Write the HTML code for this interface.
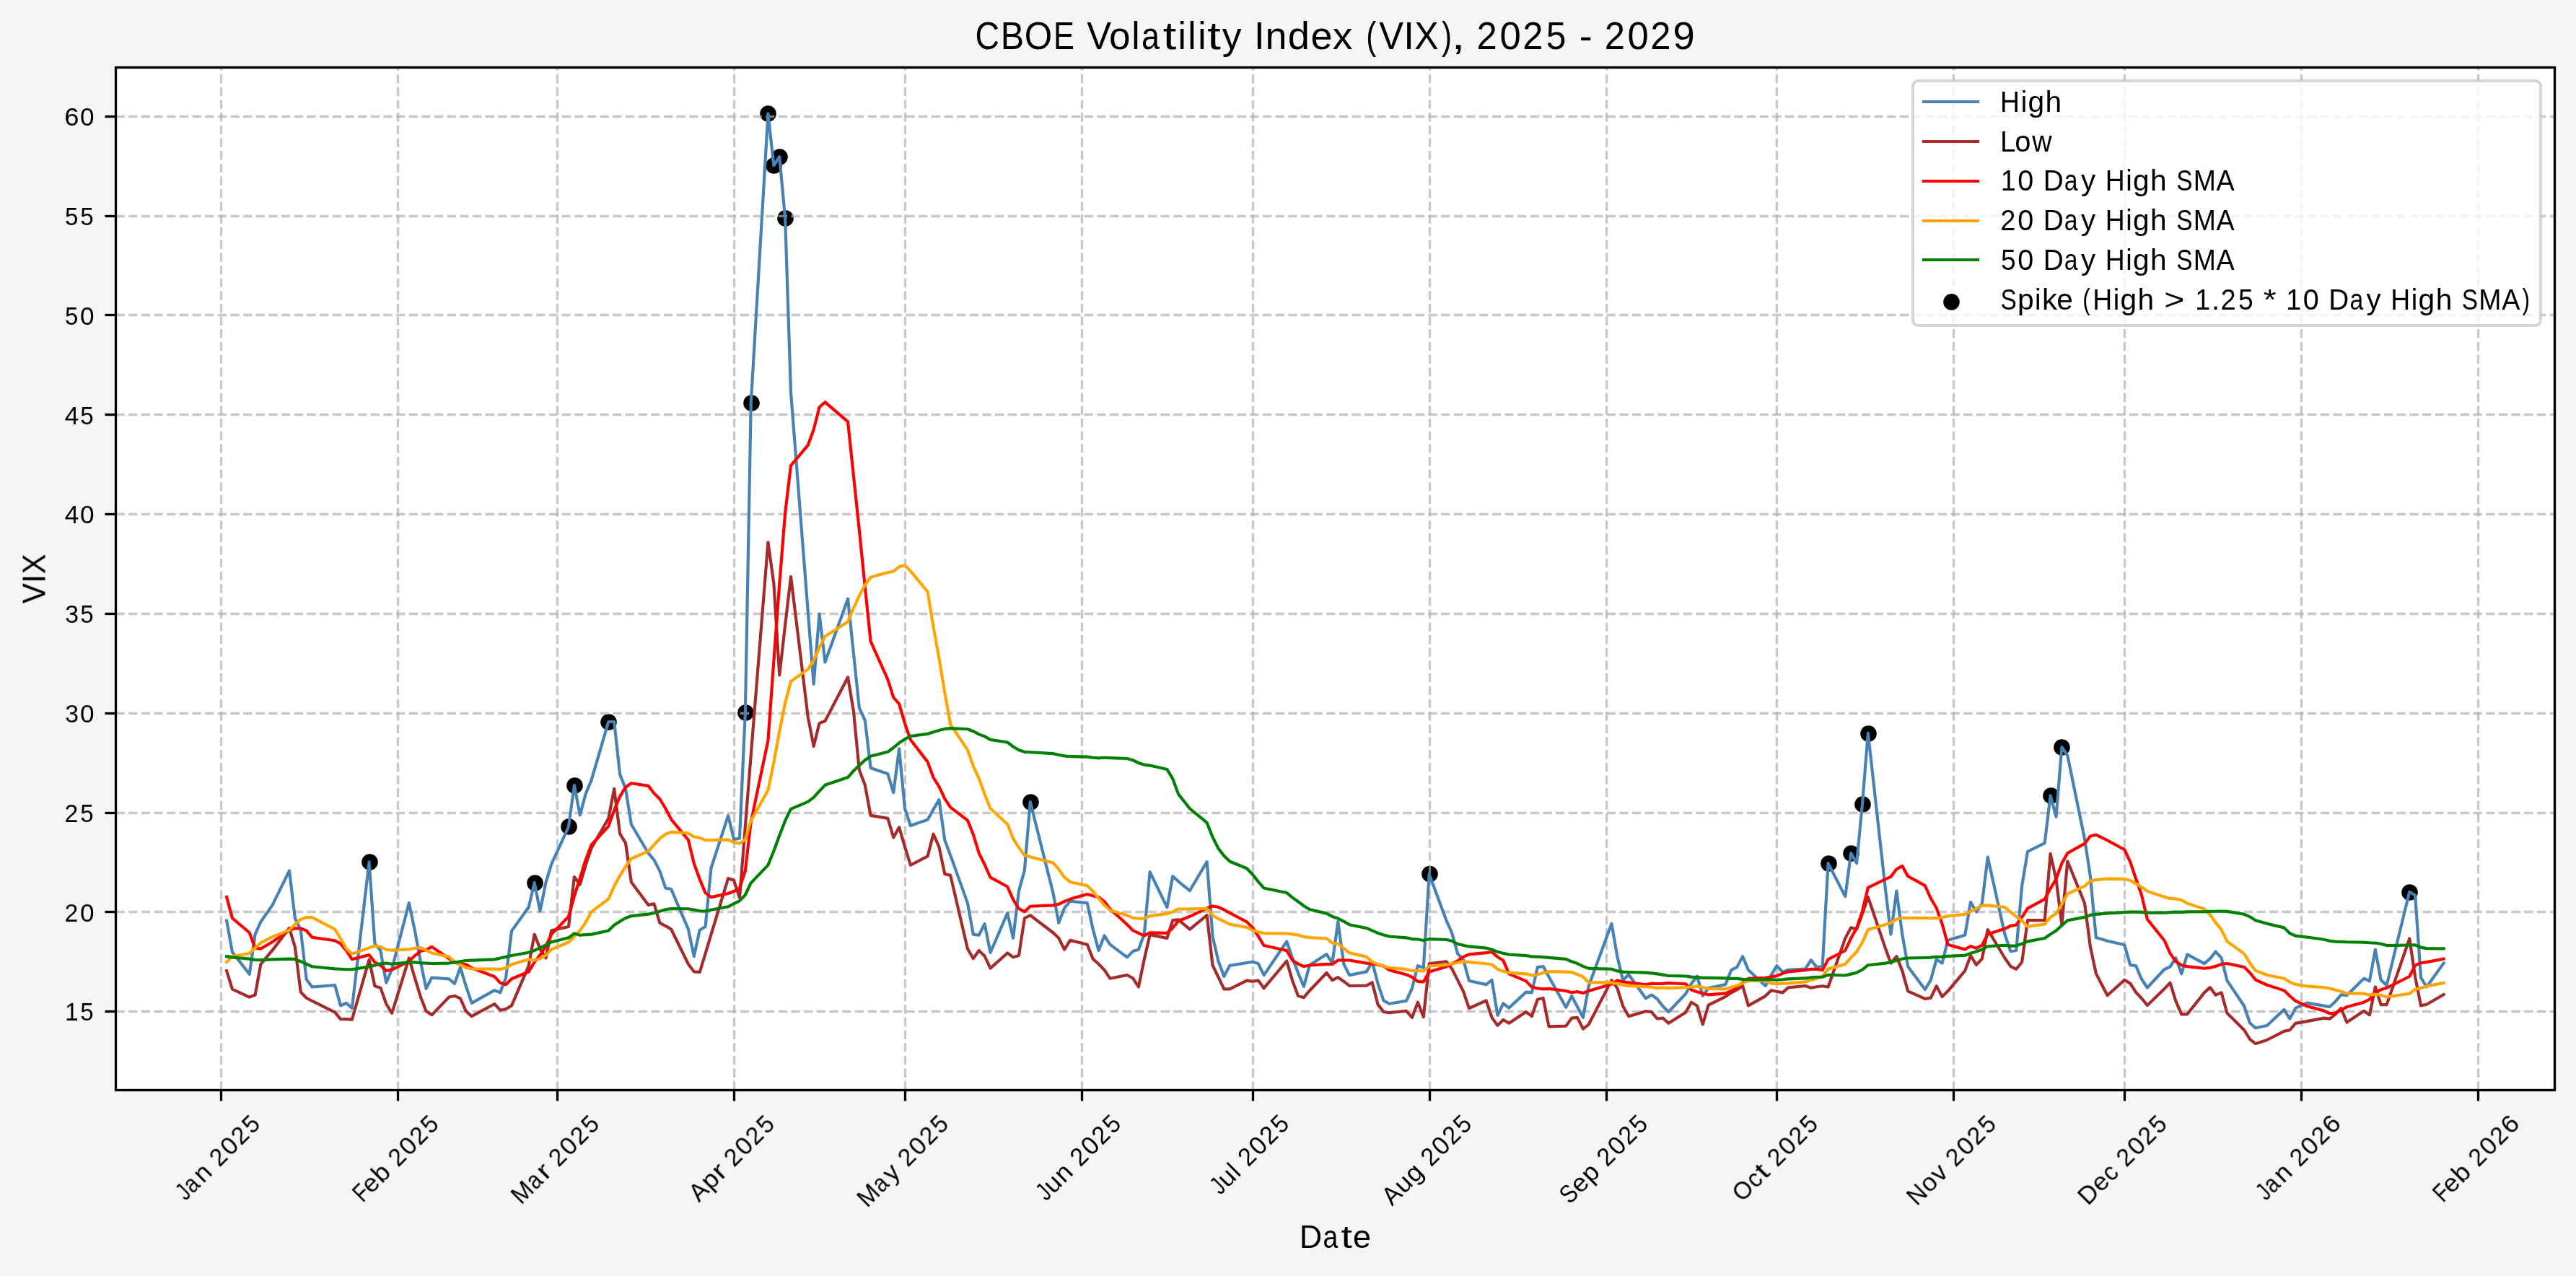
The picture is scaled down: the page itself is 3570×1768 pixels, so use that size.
<!DOCTYPE html><html><head><meta charset="utf-8"><title>CBOE Volatility Index (VIX), 2025 - 2029</title>
<style>html,body{margin:0;padding:0;background:#f5f5f5;}svg{display:block;}text{font-family:"Liberation Sans",sans-serif;fill:#000;}.t{filter:opacity(0.999);}</style></head><body>
<svg width="3570" height="1768" viewBox="0 0 3570 1768">
<rect x="0" y="0" width="3570" height="1768" fill="#f5f5f5"/>
<rect x="160.46" y="93" width="3379.79" height="1417.55" fill="#ffffff"/>
<g fill="#000">
<circle cx="512.5" cy="1194.5" r="11.3"/>
<circle cx="741.5" cy="1223.5" r="11.3"/>
<circle cx="788.5" cy="1145.5" r="11.3"/>
<circle cx="796.5" cy="1088.5" r="11.3"/>
<circle cx="843.5" cy="1000.5" r="11.3"/>
<circle cx="1033.5" cy="987.5" r="11.3"/>
<circle cx="1041.5" cy="558.5" r="11.3"/>
<circle cx="1064.5" cy="157.5" r="11.3"/>
<circle cx="1072.5" cy="229.5" r="11.3"/>
<circle cx="1080.5" cy="217.5" r="11.3"/>
<circle cx="1088.5" cy="302.5" r="11.3"/>
<circle cx="1428.5" cy="1111.5" r="11.3"/>
<circle cx="1981.5" cy="1211.1" r="11.3"/>
<circle cx="2534.5" cy="1196.5" r="11.3"/>
<circle cx="2565.5" cy="1182.5" r="11.3"/>
<circle cx="2581.5" cy="1114.5" r="11.3"/>
<circle cx="2589.5" cy="1016.5" r="11.3"/>
<circle cx="2842.5" cy="1102.5" r="11.3"/>
<circle cx="2857.5" cy="1035.5" r="11.3"/>
<circle cx="3339.5" cy="1236.5" r="11.3"/>
</g>
<g stroke="#b0b0b0" stroke-opacity="0.7" stroke-width="3.33" stroke-dasharray="12.33 5.33" fill="none">
<path d="M306.5 1510.55V93"/>
<path d="M551.5 1510.55V93"/>
<path d="M772.5 1510.55V93"/>
<path d="M1017.5 1510.55V93"/>
<path d="M1254.5 1510.55V93"/>
<path d="M1499.5 1510.55V93"/>
<path d="M1736.5 1510.55V93"/>
<path d="M1981.5 1510.55V93"/>
<path d="M2226.5 1510.55V93"/>
<path d="M2462.5 1510.55V93"/>
<path d="M2707.5 1510.55V93"/>
<path d="M2944.5 1510.55V93"/>
<path d="M3189.5 1510.55V93"/>
<path d="M3434.5 1510.55V93"/>
<path d="M160.46 1401.5H3540.25"/>
<path d="M160.46 1263.5H3540.25"/>
<path d="M160.46 1126.5H3540.25"/>
<path d="M160.46 988.5H3540.25"/>
<path d="M160.46 850.5H3540.25"/>
<path d="M160.46 712.5H3540.25"/>
<path d="M160.46 574.5H3540.25"/>
<path d="M160.46 436.5H3540.25"/>
<path d="M160.46 299.5H3540.25"/>
<path d="M160.46 161.5H3540.25"/>
</g>
<polyline points="314.09,1275.78 321.98,1319.28 345.68,1349.84 353.58,1294.59 361.48,1276.96 377.27,1254.62 400.97,1206.43 408.87,1272.26 416.77,1288.72 424.66,1356.9 432.56,1367.48 464.16,1365.13 472.06,1393.34 479.95,1389.81 487.85,1396.87 511.55,1194.4 519.45,1307.52 527.35,1316.93 535.24,1361.6 543.14,1342.79 566.84,1251.1 574.74,1288.72 582.64,1331.04 590.53,1369.83 598.43,1354.55 622.13,1356.43 630.03,1362.78 637.93,1340.44 645.82,1366.3 653.72,1389.81 685.32,1372.18 693.22,1375.24 701.11,1354.55 709.01,1289.89 732.71,1256.98 740.61,1222.88 748.51,1262.38 756.4,1222.88 764.3,1197.02 788,1145.5 795.9,1088.15 803.8,1129.3 811.69,1099.91 819.59,1081.1 843.29,999.98 851.19,999.98 859.09,1072.87 866.98,1092.85 874.88,1142.23 898.58,1182.2 906.48,1191.6 914.38,1206.88 922.27,1230.39 930.17,1232.04 953.87,1287.54 961.77,1325.16 969.67,1288.72 977.56,1284.01 985.46,1202.9 1009.16,1130.14 1017.06,1163.01 1024.96,1161.64 1032.85,987.43 1040.75,557.96 1064.45,157.43 1072.35,229.38 1080.25,217.25 1088.14,302.43 1096.04,544.18 1119.74,847.39 1127.64,947.87 1135.53,850.69 1143.43,917.46 1175.03,829.69 1182.93,905.55 1190.82,980.78 1198.72,998.03 1206.62,1064.03 1230.32,1072.26 1238.22,1098.12 1246.11,1037.46 1254.01,1120.46 1261.91,1143.97 1285.61,1135.74 1293.51,1121.63 1301.4,1107.99 1309.3,1163.95 1317.2,1185.11 1340.9,1251.08 1348.8,1294.58 1356.69,1295.75 1364.59,1280 1372.49,1319.97 1396.19,1265.19 1404.09,1299.75 1411.98,1234.62 1419.88,1205.71 1427.78,1111.05 1459.38,1236.98 1467.27,1278.59 1475.17,1258.14 1483.07,1248.73 1506.77,1251.08 1514.67,1287.52 1522.56,1316.91 1530.46,1296.46 1538.36,1308.68 1562.06,1326.32 1569.96,1318.09 1577.85,1315.74 1585.75,1294.58 1593.65,1208.15 1617.35,1257.05 1625.25,1214.03 1633.14,1221.32 1648.94,1234.01 1672.64,1194.04 1680.54,1297.49 1688.43,1331.58 1696.33,1352.74 1704.23,1337.93 1727.93,1333.94 1735.83,1332.76 1743.72,1335.11 1751.62,1351.1 1783.22,1304.55 1791.12,1327.59 1799.01,1348.04 1806.91,1366.85 1814.81,1337.46 1838.51,1322.1 1846.4,1334.64 1854.3,1276.96 1862.2,1335.42 1870.1,1351.1 1893.8,1346.39 1901.69,1332.76 1909.59,1362.85 1917.49,1386.36 1925.39,1390.75 1949.09,1386.68 1956.98,1369.12 1964.88,1338.09 1972.78,1340.91 1980.68,1211.1 2004.38,1275.16 2012.27,1293.1 2020.17,1321.32 2028.07,1329.94 2035.97,1358.93 2059.67,1364.11 2067.56,1357.84 2075.46,1406.74 2083.36,1390.28 2091.26,1396.55 2114.96,1374.61 2122.85,1375.39 2130.75,1340.13 2138.65,1339.03 2146.55,1353.45 2170.25,1395.77 2178.14,1380.09 2186.04,1394.98 2193.94,1409.87 2201.84,1365.99 2233.43,1279.78 2241.33,1325.24 2249.23,1358.15 2257.13,1350.31 2280.83,1383.23 2288.72,1378.53 2296.62,1384.01 2304.52,1394.2 2312.42,1402.04 2336.12,1376.96 2344.01,1362.85 2351.91,1352.66 2359.81,1379.78 2367.71,1369.12 2391.41,1364.11 2399.3,1344.04 2407.2,1340.13 2415.1,1325.24 2423,1344.04 2446.7,1365.99 2454.59,1351.1 2462.49,1338.09 2470.39,1346.87 2478.29,1343.73 2501.98,1342.48 2509.88,1330.25 2517.78,1340.13 2525.68,1339.03 2533.58,1196.09 2557.27,1242.13 2565.17,1182.04 2573.07,1196.09 2580.97,1113.95 2588.87,1015.82 2612.56,1228.75 2620.46,1294.58 2628.36,1234.62 2636.26,1294.58 2644.16,1339.25 2667.85,1370.99 2675.75,1358.06 2683.65,1329.37 2691.55,1334.55 2699.45,1302.81 2723.14,1295.75 2731.04,1249.91 2738.94,1263.54 2746.84,1252.26 2754.74,1187.6 2778.43,1294.58 2786.33,1318.09 2794.23,1316.91 2802.13,1227.57 2810.03,1179.86 2833.72,1168.1 2841.62,1102.27 2849.52,1131.66 2857.42,1035.27 2865.32,1047.02 2889.01,1162.23 2896.91,1213.95 2904.81,1298.94 2920.61,1303.84 2944.3,1309.33 2952.2,1337.15 2960.1,1338.13 2968,1356.74 2975.9,1368.5 2999.59,1343.03 3007.49,1339.5 3015.39,1327.35 3023.29,1349.29 3031.19,1322.45 3054.88,1335.19 3062.78,1328.33 3070.68,1318.53 3078.58,1327.35 3086.48,1358.7 3110.17,1393.97 3118.07,1417.48 3125.97,1424.33 3141.77,1421 3165.46,1398.86 3173.36,1411.6 3181.26,1396.9 3197.06,1389.66 3220.75,1393.57 3228.65,1394.95 3236.55,1387.7 3244.45,1378.29 3252.35,1379.27 3276.04,1355.76 3283.94,1359.25 3291.84,1315.75 3299.74,1358.07 3307.64,1365.13 3339.23,1235.79 3347.13,1240.52 3355.03,1354.55 3362.93,1367.48 3386.62,1334.56" fill="none" stroke="#4682b4" stroke-width="4.17" stroke-linejoin="round" stroke-linecap="square"/>
<polyline points="314.09,1345.14 321.98,1370.53 345.68,1381.58 353.58,1378.53 361.48,1335.74 377.27,1316.93 400.97,1285.89 408.87,1312.23 416.77,1374.53 424.66,1382.76 432.56,1386.99 464.16,1402.74 472.06,1412.15 479.95,1412.15 487.85,1412.62 511.55,1329.86 519.45,1366.3 527.35,1368.65 535.24,1390.99 543.14,1403.92 566.84,1327.51 574.74,1354.55 582.64,1380.41 590.53,1401.1 598.43,1406.27 622.13,1381.58 630.03,1379.94 637.93,1383.47 645.82,1401.1 653.72,1408.15 685.32,1390.99 693.22,1399.69 701.11,1398.04 709.01,1393.34 732.71,1338.09 740.61,1294.59 748.51,1314.58 756.4,1327.51 764.3,1289.19 788,1284.01 795.9,1215.11 803.8,1225.69 811.69,1198.65 819.59,1175.14 843.29,1134 851.19,1092.85 859.09,1155.16 866.98,1168.09 874.88,1222.16 898.58,1253.9 906.48,1252.26 914.38,1278.84 922.27,1282.84 930.17,1287.54 953.87,1335.74 961.77,1346.32 969.67,1347.02 977.56,1321.4 985.46,1294.83 1009.16,1216.99 1017.06,1219.81 1024.96,1243.84 1032.85,1145.1 1040.75,1045.86 1064.45,751.32 1072.35,808.37 1080.25,935.33 1088.14,866.36 1096.04,798.97 1119.74,993.32 1127.64,1034.08 1135.53,1002.1 1143.43,998.97 1175.03,938.46 1182.93,985.49 1190.82,1066.99 1198.72,1087.54 1206.62,1129.86 1230.32,1133.86 1238.22,1160.42 1246.11,1146.32 1254.01,1173.36 1261.91,1198.75 1285.61,1186.29 1293.51,1155.72 1301.4,1173.36 1309.3,1210.97 1317.2,1212.85 1340.9,1314.56 1348.8,1328.2 1356.69,1316.91 1364.59,1324.67 1372.49,1341.6 1396.19,1320.44 1404.09,1326.32 1411.98,1323.97 1419.88,1272.24 1427.78,1268.25 1459.38,1292.23 1467.27,1299.75 1475.17,1315.74 1483.07,1302.81 1506.77,1308.68 1514.67,1328.67 1522.56,1335.72 1530.46,1343.95 1538.36,1355.71 1562.06,1351 1569.96,1355.24 1577.85,1367.46 1585.75,1329.23 1593.65,1295.14 1617.35,1299.84 1625.25,1275.16 1633.14,1274.45 1648.94,1287.62 1672.64,1268.1 1680.54,1337.46 1688.43,1353.92 1696.33,1370.38 1704.23,1370.38 1727.93,1358.62 1735.83,1359.8 1743.72,1358.62 1751.62,1369.2 1783.22,1331.58 1791.12,1358.62 1799.01,1379.78 1806.91,1382.13 1814.81,1372.73 1838.51,1347.96 1846.4,1358.15 1854.3,1354.23 1862.2,1359.72 1870.1,1365.99 1893.8,1365.67 1901.69,1361.29 1909.59,1391.85 1917.49,1402.04 1925.39,1403.29 1949.09,1400.78 1956.98,1409.87 1964.88,1388.71 1972.78,1409.09 1980.68,1335.42 2004.38,1332.29 2012.27,1342.48 2020.17,1358.15 2028.07,1373.82 2035.97,1397.02 2059.67,1386.36 2067.56,1409.87 2075.46,1420.85 2083.36,1413.01 2091.26,1417.71 2114.96,1402.04 2122.85,1407.99 2130.75,1384.8 2138.65,1382.92 2146.55,1422.41 2170.25,1421.63 2178.14,1410.66 2186.04,1409.87 2193.94,1425.55 2201.84,1419.28 2233.43,1358.15 2241.33,1369.12 2249.23,1394.2 2257.13,1408.31 2280.83,1401.25 2288.72,1402.04 2296.62,1411.44 2304.52,1410.66 2312.42,1417.71 2336.12,1402.82 2344.01,1388.71 2351.91,1393.42 2359.81,1419.28 2367.71,1392.63 2391.41,1380.88 2399.3,1375.39 2407.2,1371.47 2415.1,1365.99 2423,1393.42 2446.7,1380.09 2454.59,1372.26 2462.49,1373.82 2470.39,1375.39 2478.29,1368.34 2501.98,1365.99 2509.88,1368.65 2517.78,1367.24 2525.68,1366.3 2533.58,1367.55 2557.27,1300.16 2565.17,1285.27 2573.07,1287.62 2580.97,1266.11 2588.87,1242.96 2612.56,1312.92 2620.46,1334.55 2628.36,1325.14 2636.26,1345.13 2644.16,1373.34 2667.85,1383.92 2675.75,1382.74 2683.65,1366.29 2691.55,1381.1 2699.45,1373.34 2723.14,1345.13 2731.04,1323.97 2738.94,1336.9 2746.84,1328.67 2754.74,1287.99 2778.43,1327.49 2786.33,1338.78 2794.23,1342.78 2802.13,1333.23 2810.03,1275.04 2833.72,1275.04 2841.62,1182.92 2849.52,1218.65 2857.42,1280.96 2865.32,1193.26 2889.01,1251.57 2896.91,1311.68 2904.81,1348.9 2920.61,1379.27 2944.3,1357.72 2952.2,1362.62 2960.1,1374.96 2968,1383.19 2975.9,1392.99 2999.59,1370.06 3007.49,1361.64 3015.39,1387.11 3023.29,1405.33 3031.19,1405.33 3054.88,1375.35 3062.78,1368.1 3070.68,1378.68 3078.58,1375.35 3086.48,1403.76 3110.17,1427.27 3118.07,1440.01 3125.97,1446.11 3141.77,1440.99 3165.46,1428.84 3173.36,1427.27 3181.26,1417.87 3197.06,1415.13 3220.75,1410.62 3228.65,1411.6 3236.55,1405.33 3244.45,1396.9 3252.35,1416.5 3276.04,1400.82 3283.94,1406.27 3291.84,1367.48 3299.74,1392.16 3307.64,1392.16 3339.23,1300.47 3347.13,1353.61 3355.03,1393.34 3362.93,1391.69 3386.62,1378.06" fill="none" stroke="#a52a2a" stroke-width="4.17" stroke-linejoin="round" stroke-linecap="square"/>
<polyline points="314.09,1242.87 321.98,1272.26 345.68,1292.24 353.58,1313.4 361.48,1314.58 377.27,1305.17 400.97,1288.72 408.87,1286.36 416.77,1286.36 424.66,1289.54 432.56,1298.71 464.16,1303.29 472.06,1307.64 479.95,1317.16 487.85,1329.16 511.55,1323.13 519.45,1333.24 527.35,1337.71 535.24,1345 543.14,1343.59 566.84,1331.95 574.74,1324.31 582.64,1318.08 590.53,1316.08 598.43,1311.85 622.13,1328.05 630.03,1333.58 637.93,1335.93 645.82,1336.4 653.72,1341.1 685.32,1353.21 693.22,1361.86 701.11,1364.21 709.01,1356.22 732.71,1346.46 740.61,1333.1 748.51,1323.07 756.4,1311.31 764.3,1294.38 788,1269.95 795.9,1241.55 803.8,1216.95 811.69,1191.49 819.59,1170.61 843.29,1144.91 851.19,1122.62 859.09,1103.67 866.98,1090.67 874.88,1085.19 898.58,1088.86 906.48,1099.2 914.38,1106.96 922.27,1120.01 930.17,1135.1 953.87,1163.86 961.77,1196.38 969.67,1217.96 977.56,1237.08 985.46,1243.14 1009.16,1237.94 1017.06,1235.08 1024.96,1230.56 1032.85,1206.26 1040.75,1138.85 1064.45,1025.84 1072.35,916.26 1080.25,809.12 1088.14,710.96 1096.04,645.08 1119.74,616.81 1127.64,595.3 1135.53,564.2 1143.43,557.2 1175.03,584.38 1182.93,659.19 1190.82,734.33 1198.72,812.41 1206.62,888.57 1230.32,941.37 1238.22,966.45 1246.11,975.41 1254.01,1002.38 1261.91,1025.03 1285.61,1055.64 1293.51,1077.25 1301.4,1089.97 1309.3,1106.56 1317.2,1118.67 1340.9,1136.55 1348.8,1156.2 1356.69,1182.03 1364.59,1197.98 1372.49,1215.58 1396.19,1228.53 1404.09,1246.34 1411.98,1259 1419.88,1263.18 1427.78,1255.77 1459.38,1254.36 1467.27,1252.76 1475.17,1249 1483.07,1245.87 1506.77,1238.98 1514.67,1241.22 1522.56,1242.93 1530.46,1249.12 1538.36,1259.41 1562.06,1280.94 1569.96,1289.05 1577.85,1292.77 1585.75,1296.41 1593.65,1292.35 1617.35,1292.95 1625.25,1285.6 1633.14,1276.04 1648.94,1269.8 1672.64,1258.33 1680.54,1255.45 1688.43,1256.8 1696.33,1260.5 1704.23,1264.84 1727.93,1277.42 1735.83,1284.99 1743.72,1297.09 1751.62,1310.07 1783.22,1317.13 1791.12,1330.48 1799.01,1335.53 1806.91,1339.06 1814.81,1337.53 1838.51,1335.95 1846.4,1336.02 1854.3,1330.44 1862.2,1330.47 1870.1,1330.47 1893.8,1334.66 1901.69,1335.17 1909.59,1336.65 1917.49,1338.61 1925.39,1343.93 1949.09,1350.39 1956.98,1353.84 1964.88,1359.95 1972.78,1360.5 1980.68,1346.5 2004.38,1339.38 2012.27,1335.41 2020.17,1331.26 2028.07,1325.62 2035.97,1322.43 2059.67,1320.18 2067.56,1319.05 2075.46,1325.91 2083.36,1330.85 2091.26,1349.4 2114.96,1359.34 2122.85,1367.57 2130.75,1369.45 2138.65,1370.36 2146.55,1369.81 2170.25,1372.98 2178.14,1375.2 2186.04,1374.03 2193.94,1375.99 2201.84,1372.93 2233.43,1363.45 2241.33,1358.43 2249.23,1360.24 2257.13,1361.36 2280.83,1364.34 2288.72,1362.62 2296.62,1363.01 2304.52,1362.93 2312.42,1362.15 2336.12,1363.24 2344.01,1371.55 2351.91,1374.29 2359.81,1376.46 2367.71,1378.34 2391.41,1376.43 2399.3,1372.98 2407.2,1368.59 2415.1,1361.69 2423,1355.89 2446.7,1354.8 2454.59,1353.62 2462.49,1352.16 2470.39,1348.87 2478.29,1346.33 2501.98,1344.17 2509.88,1342.79 2517.78,1342.79 2525.68,1344.17 2533.58,1329.37 2557.27,1316.99 2565.17,1300.08 2573.07,1285.88 2580.97,1262.59 2588.87,1229.8 2612.56,1218.43 2620.46,1214.86 2628.36,1204.31 2636.26,1199.87 2644.16,1214.18 2667.85,1227.07 2675.75,1244.67 2683.65,1258 2691.55,1280.06 2699.45,1308.76 2723.14,1315.46 2731.04,1310.99 2738.94,1313.88 2746.84,1309.65 2754.74,1294.48 2778.43,1286.84 2786.33,1282.85 2794.23,1281.6 2802.13,1270.9 2810.03,1258.61 2833.72,1245.84 2841.62,1231.08 2849.52,1217.89 2857.42,1196.19 2865.32,1182.13 2889.01,1168.9 2896.91,1158.49 2904.81,1156.69 2920.61,1164.32 2944.3,1177.26 2952.2,1194.17 2960.1,1217.75 2968,1240.26 2975.9,1273.58 2999.59,1303.18 3007.49,1320.91 3015.39,1332.25 3023.29,1337.28 3031.19,1339.15 3054.88,1341.73 3062.78,1340.85 3070.68,1338.89 3078.58,1335.95 3086.48,1334.97 3110.17,1340.07 3118.07,1347.86 3125.97,1357.56 3141.77,1364.73 3165.46,1372.37 3173.36,1380.02 3181.26,1386.87 3197.06,1393.99 3220.75,1400.61 3228.65,1404.23 3236.55,1403.61 3244.45,1399.69 3252.35,1395.18 3276.04,1388.66 3283.94,1384.69 3291.84,1375.11 3299.74,1371.23 3307.64,1368.77 3339.23,1353 3347.13,1337.55 3355.03,1334.24 3362.93,1333.16 3386.62,1328.69" fill="none" stroke="#ff0000" stroke-width="4.17" stroke-linejoin="round" stroke-linecap="square"/>
<polyline points="314.09,1332.92 321.98,1325.16 345.68,1321.16 353.58,1313.4 361.48,1306.35 377.27,1298.12 400.97,1288.72 408.87,1280.49 416.77,1273.9 424.66,1271.08 432.56,1271.08 464.16,1287.54 472.06,1300.47 479.95,1314.58 487.85,1321.63 511.55,1313.4 519.45,1310.58 527.35,1311.76 535.24,1315.75 543.14,1316.56 566.84,1315.33 574.74,1313.8 582.64,1312.86 590.53,1316.62 598.43,1320.5 622.13,1325.59 630.03,1333.41 637.93,1336.82 645.82,1340.7 653.72,1342.34 685.32,1342.58 693.22,1343.08 701.11,1341.14 709.01,1336.15 732.71,1329.15 740.61,1330.58 748.51,1328.32 756.4,1323.62 764.3,1315.39 788,1305.52 795.9,1297.38 803.8,1289.41 811.69,1277.85 819.59,1263.41 843.29,1245.69 851.19,1227.86 859.09,1213.37 866.98,1200.99 874.88,1189.78 898.58,1179.4 906.48,1170.37 914.38,1161.96 922.27,1155.75 930.17,1152.86 953.87,1154.38 961.77,1159.5 969.67,1160.82 977.56,1163.87 985.46,1164.17 1009.16,1163.4 1017.06,1167.14 1024.96,1168.76 1032.85,1163.13 1040.75,1136.98 1064.45,1094.85 1072.35,1056.32 1080.25,1013.54 1088.14,974.02 1096.04,944.11 1119.74,927.37 1127.64,915.19 1135.53,897.38 1143.43,881.73 1175.03,861.61 1182.93,842.51 1190.82,825.3 1198.72,810.76 1206.62,799.76 1230.32,793.23 1238.22,791.63 1246.11,785.35 1254.01,783.29 1261.91,791.12 1285.61,820.01 1293.51,868.22 1301.4,912.15 1309.3,959.48 1317.2,1003.62 1340.9,1038.96 1348.8,1061.32 1356.69,1078.72 1364.59,1100.18 1372.49,1120.31 1396.19,1142.08 1404.09,1161.79 1411.98,1174.48 1419.88,1184.87 1427.78,1187.22 1459.38,1195.46 1467.27,1204.48 1475.17,1215.51 1483.07,1221.93 1506.77,1227.28 1514.67,1234.87 1522.56,1244.64 1530.46,1254.06 1538.36,1261.3 1562.06,1268.36 1569.96,1271.71 1577.85,1272.76 1585.75,1272.71 1593.65,1269.11 1617.35,1265.97 1625.25,1263.41 1633.14,1259.49 1648.94,1259.46 1672.64,1258.87 1680.54,1268.2 1688.43,1272.93 1696.33,1276.63 1704.23,1280.62 1727.93,1284.88 1735.83,1288.97 1743.72,1291.35 1751.62,1293.06 1783.22,1293.46 1791.12,1294.41 1799.01,1295.49 1806.91,1297.93 1814.81,1299.02 1838.51,1300.39 1846.4,1306.72 1854.3,1307.71 1862.2,1313.78 1870.1,1320.27 1893.8,1325.89 1901.69,1332.83 1909.59,1336.09 1917.49,1338.83 1925.39,1340.73 1949.09,1343.17 1956.98,1344.93 1964.88,1345.2 1972.78,1345.49 1980.68,1338.49 2004.38,1337.02 2012.27,1335.29 2020.17,1333.96 2028.07,1332.11 2035.97,1333.18 2059.67,1335.28 2067.56,1336.44 2075.46,1342.93 2083.36,1345.68 2091.26,1347.95 2114.96,1349.36 2122.85,1351.49 2130.75,1350.36 2138.65,1347.99 2146.55,1346.12 2170.25,1346.58 2178.14,1347.13 2186.04,1349.97 2193.94,1353.42 2201.84,1361.16 2233.43,1361.39 2241.33,1363 2249.23,1364.84 2257.13,1365.86 2280.83,1367.08 2288.72,1367.8 2296.62,1369.11 2304.52,1368.48 2312.42,1369.07 2336.12,1368.09 2344.01,1367.5 2351.91,1366.36 2359.81,1368.35 2367.71,1369.85 2391.41,1370.38 2399.3,1367.8 2407.2,1365.8 2415.1,1362.31 2423,1359.02 2446.7,1359.02 2454.59,1362.59 2462.49,1363.23 2470.39,1362.66 2478.29,1362.34 2501.98,1360.3 2509.88,1357.88 2517.78,1355.69 2525.68,1352.93 2533.58,1342.63 2557.27,1335.89 2565.17,1326.85 2573.07,1319.02 2580.97,1305.73 2588.87,1288.07 2612.56,1281.3 2620.46,1278.83 2628.36,1273.55 2636.26,1272.02 2644.16,1271.78 2667.85,1272.03 2675.75,1272.38 2683.65,1271.94 2691.55,1271.32 2699.45,1269.28 2723.14,1266.94 2731.04,1262.92 2738.94,1259.1 2746.84,1254.76 2754.74,1254.33 2778.43,1256.95 2786.33,1263.76 2794.23,1269.8 2802.13,1275.48 2810.03,1283.68 2833.72,1280.65 2841.62,1271.03 2849.52,1265.89 2857.42,1252.92 2865.32,1238.31 2889.01,1227.87 2896.91,1220.67 2904.81,1219.14 2920.61,1217.61 2944.3,1217.93 2952.2,1220 2960.1,1224.42 2968,1229.08 2975.9,1234.89 2999.59,1242.66 3007.49,1244.9 3015.39,1245.37 3023.29,1246.99 3031.19,1251.73 3054.88,1259.5 3062.78,1267.51 3070.68,1278.32 3078.58,1288.11 3086.48,1304.28 3110.17,1321.62 3118.07,1334.39 3125.97,1344.91 3141.77,1351.01 3165.46,1355.76 3173.36,1360.87 3181.26,1363.86 3197.06,1366.44 3220.75,1368.28 3228.65,1369.6 3236.55,1371.84 3244.45,1373.78 3252.35,1376.37 3276.04,1376.69 3283.94,1378.53 3291.84,1377.56 3299.74,1379.05 3307.64,1381.38 3339.23,1376.8 3347.13,1370.89 3355.03,1368.92 3362.93,1366.42 3386.62,1361.93" fill="none" stroke="#ffa500" stroke-width="4.17" stroke-linejoin="round" stroke-linecap="square"/>
<polyline points="314.09,1325.16 321.98,1326.33 345.68,1328.68 353.58,1329.86 361.48,1330.1 377.27,1329.39 400.97,1328.68 408.87,1329.16 416.77,1332.21 424.66,1335.74 432.56,1339.26 464.16,1342.32 472.06,1342.79 479.95,1343.26 487.85,1343.26 511.55,1339.26 519.45,1337.62 527.35,1335.27 535.24,1334.56 543.14,1335.74 566.84,1333.39 574.74,1333.39 582.64,1334.09 590.53,1334.56 598.43,1335.03 622.13,1334.56 630.03,1333.39 637.93,1332.21 645.82,1331.04 653.72,1330.57 685.32,1329.39 693.22,1327.51 701.11,1325.86 709.01,1323.98 732.71,1319.75 740.61,1316.93 748.51,1313.4 756.4,1309.41 764.3,1305.17 788,1299.3 795.9,1293.42 803.8,1295.77 811.69,1295.06 819.59,1294.59 843.29,1289.42 851.19,1281.66 859.09,1276.71 866.98,1272.01 874.88,1269.19 898.58,1266.61 906.48,1264.92 914.38,1262.67 922.27,1260.29 930.17,1259.03 953.87,1259.25 961.77,1260.66 969.67,1262.3 977.56,1262.54 985.46,1260.82 1009.16,1256.29 1017.06,1252.2 1024.96,1248.13 1032.85,1240.01 1040.75,1223.37 1064.45,1198.58 1072.35,1179.28 1080.25,1157.48 1088.14,1137.19 1096.04,1120.84 1119.74,1110.93 1127.64,1104.87 1135.53,1096.11 1143.43,1087.83 1175.03,1077.03 1182.93,1068.05 1190.82,1060.54 1198.72,1053.24 1206.62,1047.72 1230.32,1041.83 1238.22,1036 1246.11,1029.31 1254.01,1024.21 1261.91,1020 1285.61,1016.92 1293.51,1014.21 1301.4,1011.91 1309.3,1009.94 1317.2,1009.19 1340.9,1010.27 1348.8,1013.25 1356.69,1017.4 1364.59,1020.42 1372.49,1024.82 1396.19,1028.5 1404.09,1034.49 1411.98,1039.19 1419.88,1041.84 1427.78,1042.21 1459.38,1044.1 1467.27,1046.03 1475.17,1047.36 1483.07,1048.2 1506.77,1048.61 1514.67,1049.72 1522.56,1050.31 1530.46,1049.74 1538.36,1050.13 1562.06,1050.98 1569.96,1053.28 1577.85,1057 1585.75,1059.63 1593.65,1060.56 1617.35,1065.95 1625.25,1079.07 1633.14,1100.35 1648.94,1120.44 1672.64,1139.98 1680.54,1159.88 1688.43,1175.63 1696.33,1185.73 1704.23,1193.54 1727.93,1203.2 1735.83,1211.51 1743.72,1221.62 1751.62,1230.53 1783.22,1237 1791.12,1243.59 1799.01,1249.27 1806.91,1255.17 1814.81,1259.95 1838.51,1265.64 1846.4,1269.93 1854.3,1272.59 1862.2,1276.58 1870.1,1281.17 1893.8,1285.94 1901.69,1289.32 1909.59,1292.87 1917.49,1295.58 1925.39,1297.5 1949.09,1299.32 1956.98,1301.1 1964.88,1301.46 1972.78,1302.98 1980.68,1301.2 2004.38,1302.01 2012.27,1303.76 2020.17,1307.97 2028.07,1309.83 2035.97,1311.43 2059.67,1313.55 2067.56,1315.74 2075.46,1318.85 2083.36,1320.9 2091.26,1322.5 2114.96,1324.06 2122.85,1325.39 2130.75,1325.67 2138.65,1326.09 2146.55,1326.84 2170.25,1328.87 2178.14,1332.31 2186.04,1335.06 2193.94,1338.98 2201.84,1341.87 2233.43,1342.79 2241.33,1345.41 2249.23,1346.63 2257.13,1347 2280.83,1347.61 2288.72,1348.42 2296.62,1349.42 2304.52,1350.65 2312.42,1351.99 2336.12,1352.51 2344.01,1353.68 2351.91,1354.18 2359.81,1354.81 2367.71,1354.86 2391.41,1355.39 2399.3,1355.83 2407.2,1355.94 2415.1,1356.9 2423,1357.08 2446.7,1357.37 2454.59,1357.47 2462.49,1357.57 2470.39,1357.25 2478.29,1356.4 2501.98,1355.44 2509.88,1354.31 2517.78,1353.73 2525.68,1353.75 2533.58,1350.85 2557.27,1351.47 2565.17,1349.61 2573.07,1347.67 2580.97,1343.52 2588.87,1337.24 2612.56,1334.64 2620.46,1333.24 2628.36,1330.78 2636.26,1328.54 2644.16,1327.52 2667.85,1327.01 2675.75,1326.67 2683.65,1325.75 2691.55,1325.64 2699.45,1324.92 2723.14,1323.76 2731.04,1320.85 2738.94,1318.52 2746.84,1315.66 2754.74,1311.22 2778.43,1309.79 2786.33,1310.55 2794.23,1310.39 2802.13,1307.78 2810.03,1304.37 2833.72,1300.06 2841.62,1294.54 2849.52,1289.49 2857.42,1282.31 2865.32,1275.21 2889.01,1270.92 2896.91,1267.94 2904.81,1266.87 2920.61,1265.35 2944.3,1264.15 2952.2,1263.61 2960.1,1263.49 2968,1263.83 2975.9,1264.69 2999.59,1264.67 3007.49,1264.14 3015.39,1263.67 3023.29,1263.89 3031.19,1263.4 3054.88,1263.23 3062.78,1262.95 3070.68,1262.71 3078.58,1262.46 3086.48,1262.85 3110.17,1266.81 3118.07,1270.32 3125.97,1275.16 3141.77,1279.66 3165.46,1285.36 3173.36,1293.27 3181.26,1296.64 3197.06,1298.54 3220.75,1301.72 3228.65,1303.73 3236.55,1304.69 3244.45,1304.84 3252.35,1305.26 3276.04,1305.79 3283.94,1306.29 3291.84,1306.55 3299.74,1307.79 3307.64,1310.1 3339.23,1309.54 3347.13,1309.31 3355.03,1312.65 3362.93,1314.1 3386.62,1314.43" fill="none" stroke="#008000" stroke-width="4.17" stroke-linejoin="round" stroke-linecap="square"/>
<rect x="160.5" y="93.5" width="3380" height="1417" fill="none" stroke="#000" stroke-width="3.33" stroke-linejoin="miter"/>
<g stroke="#000" stroke-width="3.33">
<path d="M306.5 1510.5V1525.5"/>
<path d="M551.5 1510.5V1525.5"/>
<path d="M772.5 1510.5V1525.5"/>
<path d="M1017.5 1510.5V1525.5"/>
<path d="M1254.5 1510.5V1525.5"/>
<path d="M1499.5 1510.5V1525.5"/>
<path d="M1736.5 1510.5V1525.5"/>
<path d="M1981.5 1510.5V1525.5"/>
<path d="M2226.5 1510.5V1525.5"/>
<path d="M2462.5 1510.5V1525.5"/>
<path d="M2707.5 1510.5V1525.5"/>
<path d="M2944.5 1510.5V1525.5"/>
<path d="M3189.5 1510.5V1525.5"/>
<path d="M3434.5 1510.5V1525.5"/>
<path d="M160.5 1401.5H145.5"/>
<path d="M160.5 1263.5H145.5"/>
<path d="M160.5 1126.5H145.5"/>
<path d="M160.5 988.5H145.5"/>
<path d="M160.5 850.5H145.5"/>
<path d="M160.5 712.5H145.5"/>
<path d="M160.5 574.5H145.5"/>
<path d="M160.5 436.5H145.5"/>
<path d="M160.5 299.5H145.5"/>
<path d="M160.5 161.5H145.5"/>
</g>
<g class="t">
<text y="68" font-size="52.98"><tspan x="1351.38" textLength="33.52" lengthAdjust="spacingAndGlyphs">C</tspan><tspan x="1386.76" textLength="32.4" lengthAdjust="spacingAndGlyphs">B</tspan><tspan x="1419.73" textLength="38.45" lengthAdjust="spacingAndGlyphs">O</tspan><tspan x="1459.97" textLength="28.9" lengthAdjust="spacingAndGlyphs">E</tspan> <tspan x="1506.27" textLength="33.84" lengthAdjust="spacingAndGlyphs">V</tspan><tspan x="1536.95" textLength="29.56" lengthAdjust="spacingAndGlyphs">o</tspan><tspan x="1568.29" textLength="11.36" lengthAdjust="spacingAndGlyphs">l</tspan><tspan x="1582" textLength="25.01" lengthAdjust="spacingAndGlyphs">a</tspan><tspan x="1611.88" textLength="18.57" lengthAdjust="spacingAndGlyphs">t</tspan><tspan x="1632.45" textLength="11.36" lengthAdjust="spacingAndGlyphs">i</tspan><tspan x="1646.31" textLength="11.36" lengthAdjust="spacingAndGlyphs">l</tspan><tspan x="1660.23" textLength="11.36" lengthAdjust="spacingAndGlyphs">i</tspan><tspan x="1673.16" textLength="18.57" lengthAdjust="spacingAndGlyphs">t</tspan><tspan x="1693.79" textLength="26.85" lengthAdjust="spacingAndGlyphs">y</tspan> <tspan x="1737.94" textLength="14.69" lengthAdjust="spacingAndGlyphs">I</tspan><tspan x="1753.62" textLength="29.98" lengthAdjust="spacingAndGlyphs">n</tspan><tspan x="1784.83" textLength="30.22" lengthAdjust="spacingAndGlyphs">d</tspan><tspan x="1816.55" textLength="30.04" lengthAdjust="spacingAndGlyphs">e</tspan><tspan x="1846.79" textLength="27.73" lengthAdjust="spacingAndGlyphs">x</tspan> <tspan x="1893.13" textLength="14.07" lengthAdjust="spacingAndGlyphs">(</tspan><tspan x="1911.13" textLength="33.84" lengthAdjust="spacingAndGlyphs">V</tspan><tspan x="1945.19" textLength="14.69" lengthAdjust="spacingAndGlyphs">I</tspan><tspan x="1960.28" textLength="33.38" lengthAdjust="spacingAndGlyphs">X</tspan><tspan x="1997.92" textLength="14.07" lengthAdjust="spacingAndGlyphs">)</tspan><tspan x="2011.54" textLength="19.14" lengthAdjust="spacingAndGlyphs">,</tspan> <tspan x="2046.57" textLength="28.25" lengthAdjust="spacingAndGlyphs">2</tspan><tspan x="2078.51" textLength="29.31" lengthAdjust="spacingAndGlyphs">0</tspan><tspan x="2110.19" textLength="28.25" lengthAdjust="spacingAndGlyphs">2</tspan><tspan x="2142.76" textLength="27.66" lengthAdjust="spacingAndGlyphs">5</tspan> <tspan x="2188.65" textLength="17.95" lengthAdjust="spacingAndGlyphs">-</tspan> <tspan x="2223.64" textLength="28.25" lengthAdjust="spacingAndGlyphs">2</tspan><tspan x="2255.58" textLength="29.31" lengthAdjust="spacingAndGlyphs">0</tspan><tspan x="2287.27" textLength="28.25" lengthAdjust="spacingAndGlyphs">2</tspan><tspan x="2318.57" textLength="30.28" lengthAdjust="spacingAndGlyphs">9</tspan></text>
<text y="1729.21" font-size="44.15"><tspan x="1801.11" textLength="31.13" lengthAdjust="spacingAndGlyphs">D</tspan><tspan x="1833.56" textLength="20.84" lengthAdjust="spacingAndGlyphs">a</tspan><tspan x="1858.45" textLength="15.47" lengthAdjust="spacingAndGlyphs">t</tspan><tspan x="1874.9" textLength="25.03" lengthAdjust="spacingAndGlyphs">e</tspan></text>
<g transform="translate(62.5 801.78) rotate(-90)">
<text y="0" font-size="44.15"><tspan x="-34.53" textLength="28.2" lengthAdjust="spacingAndGlyphs">V</tspan><tspan x="-6.14" textLength="12.24" lengthAdjust="spacingAndGlyphs">I</tspan><tspan x="6.43" textLength="27.81" lengthAdjust="spacingAndGlyphs">X</tspan></text>
</g>
<text y="1414.46" font-size="35.32"><tspan x="89.98" textLength="18.66" lengthAdjust="spacingAndGlyphs">1</tspan><tspan x="111.33" textLength="18.44" lengthAdjust="spacingAndGlyphs">5</tspan></text>
<text y="1276.63" font-size="35.32"><tspan x="89.61" textLength="18.84" lengthAdjust="spacingAndGlyphs">2</tspan><tspan x="110.91" textLength="19.54" lengthAdjust="spacingAndGlyphs">0</tspan></text>
<text y="1138.8" font-size="35.32"><tspan x="89.61" textLength="18.84" lengthAdjust="spacingAndGlyphs">2</tspan><tspan x="111.33" textLength="18.44" lengthAdjust="spacingAndGlyphs">5</tspan></text>
<text y="1000.98" font-size="35.32"><tspan x="90.13" textLength="18.77" lengthAdjust="spacingAndGlyphs">3</tspan><tspan x="110.91" textLength="19.54" lengthAdjust="spacingAndGlyphs">0</tspan></text>
<text y="863.15" font-size="35.32"><tspan x="90.13" textLength="18.77" lengthAdjust="spacingAndGlyphs">3</tspan><tspan x="111.33" textLength="18.44" lengthAdjust="spacingAndGlyphs">5</tspan></text>
<text y="725.32" font-size="35.32"><tspan x="89.7" textLength="19.54" lengthAdjust="spacingAndGlyphs">4</tspan><tspan x="110.91" textLength="19.54" lengthAdjust="spacingAndGlyphs">0</tspan></text>
<text y="587.5" font-size="35.32"><tspan x="89.7" textLength="19.54" lengthAdjust="spacingAndGlyphs">4</tspan><tspan x="111.33" textLength="18.44" lengthAdjust="spacingAndGlyphs">5</tspan></text>
<text y="449.67" font-size="35.32"><tspan x="90.12" textLength="18.44" lengthAdjust="spacingAndGlyphs">5</tspan><tspan x="110.91" textLength="19.54" lengthAdjust="spacingAndGlyphs">0</tspan></text>
<text y="311.84" font-size="35.32"><tspan x="90.12" textLength="18.44" lengthAdjust="spacingAndGlyphs">5</tspan><tspan x="111.33" textLength="18.44" lengthAdjust="spacingAndGlyphs">5</tspan></text>
<text y="174.02" font-size="35.32"><tspan x="89.36" textLength="20.23" lengthAdjust="spacingAndGlyphs">6</tspan><tspan x="110.91" textLength="19.54" lengthAdjust="spacingAndGlyphs">0</tspan></text>
<g transform="translate(304.69 1603.39) rotate(-45)">
<text y="9.5" font-size="35.32"><tspan x="-76.83" textLength="13.24" lengthAdjust="spacingAndGlyphs">J</tspan><tspan x="-62.85" textLength="16.67" lengthAdjust="spacingAndGlyphs">a</tspan><tspan x="-42.51" textLength="19.99" lengthAdjust="spacingAndGlyphs">n</tspan> <tspan x="-10.69" textLength="18.84" lengthAdjust="spacingAndGlyphs">2</tspan><tspan x="10.61" textLength="19.54" lengthAdjust="spacingAndGlyphs">0</tspan><tspan x="31.73" textLength="18.84" lengthAdjust="spacingAndGlyphs">2</tspan><tspan x="53.44" textLength="18.44" lengthAdjust="spacingAndGlyphs">5</tspan></text>
</g>
<g transform="translate(549.54 1606.18) rotate(-45)">
<text y="9.5" font-size="35.32"><tspan x="-76.29" textLength="17.45" lengthAdjust="spacingAndGlyphs">F</tspan><tspan x="-59.56" textLength="20.02" lengthAdjust="spacingAndGlyphs">e</tspan><tspan x="-38.67" textLength="20.17" lengthAdjust="spacingAndGlyphs">b</tspan> <tspan x="-6.87" textLength="18.84" lengthAdjust="spacingAndGlyphs">2</tspan><tspan x="14.42" textLength="19.54" lengthAdjust="spacingAndGlyphs">0</tspan><tspan x="35.54" textLength="18.84" lengthAdjust="spacingAndGlyphs">2</tspan><tspan x="57.26" textLength="18.44" lengthAdjust="spacingAndGlyphs">5</tspan></text>
</g>
<g transform="translate(770.7 1607.51) rotate(-45)">
<text y="9.5" font-size="35.32"><tspan x="-78.61" textLength="27.69" lengthAdjust="spacingAndGlyphs">M</tspan><tspan x="-49.67" textLength="16.67" lengthAdjust="spacingAndGlyphs">a</tspan><tspan x="-29.78" textLength="14.22" lengthAdjust="spacingAndGlyphs">r</tspan> <tspan x="-4.93" textLength="18.84" lengthAdjust="spacingAndGlyphs">2</tspan><tspan x="16.36" textLength="19.54" lengthAdjust="spacingAndGlyphs">0</tspan><tspan x="37.48" textLength="18.84" lengthAdjust="spacingAndGlyphs">2</tspan><tspan x="59.19" textLength="18.44" lengthAdjust="spacingAndGlyphs">5</tspan></text>
</g>
<g transform="translate(1015.55 1605.74) rotate(-45)">
<text y="9.5" font-size="35.32"><tspan x="-76.35" textLength="22.4" lengthAdjust="spacingAndGlyphs">A</tspan><tspan x="-53.05" textLength="20.17" lengthAdjust="spacingAndGlyphs">p</tspan><tspan x="-32.39" textLength="14.22" lengthAdjust="spacingAndGlyphs">r</tspan> <tspan x="-7.55" textLength="18.84" lengthAdjust="spacingAndGlyphs">2</tspan><tspan x="13.75" textLength="19.54" lengthAdjust="spacingAndGlyphs">0</tspan><tspan x="34.87" textLength="18.84" lengthAdjust="spacingAndGlyphs">2</tspan><tspan x="56.58" textLength="18.44" lengthAdjust="spacingAndGlyphs">5</tspan></text>
</g>
<g transform="translate(1252.51 1609.62) rotate(-45)">
<text y="9.5" font-size="35.32"><tspan x="-81.62" textLength="27.69" lengthAdjust="spacingAndGlyphs">M</tspan><tspan x="-52.68" textLength="16.67" lengthAdjust="spacingAndGlyphs">a</tspan><tspan x="-32.08" textLength="17.9" lengthAdjust="spacingAndGlyphs">y</tspan> <tspan x="-1.92" textLength="18.84" lengthAdjust="spacingAndGlyphs">2</tspan><tspan x="19.37" textLength="19.54" lengthAdjust="spacingAndGlyphs">0</tspan><tspan x="40.49" textLength="18.84" lengthAdjust="spacingAndGlyphs">2</tspan><tspan x="62.21" textLength="18.44" lengthAdjust="spacingAndGlyphs">5</tspan></text>
</g>
<g transform="translate(1497.87 1603.66) rotate(-45)">
<text y="9.5" font-size="35.32"><tspan x="-77.18" textLength="13.24" lengthAdjust="spacingAndGlyphs">J</tspan><tspan x="-63.43" textLength="19.99" lengthAdjust="spacingAndGlyphs">u</tspan><tspan x="-42.16" textLength="19.99" lengthAdjust="spacingAndGlyphs">n</tspan> <tspan x="-10.34" textLength="18.84" lengthAdjust="spacingAndGlyphs">2</tspan><tspan x="10.96" textLength="19.54" lengthAdjust="spacingAndGlyphs">0</tspan><tspan x="32.08" textLength="18.84" lengthAdjust="spacingAndGlyphs">2</tspan><tspan x="53.79" textLength="18.44" lengthAdjust="spacingAndGlyphs">5</tspan></text>
</g>
<g transform="translate(1734.82 1599.46) rotate(-45)">
<text y="9.5" font-size="35.32"><tspan x="-71.25" textLength="13.24" lengthAdjust="spacingAndGlyphs">J</tspan><tspan x="-57.49" textLength="19.99" lengthAdjust="spacingAndGlyphs">u</tspan><tspan x="-36.02" textLength="7.57" lengthAdjust="spacingAndGlyphs">l</tspan> <tspan x="-16.27" textLength="18.84" lengthAdjust="spacingAndGlyphs">2</tspan><tspan x="5.02" textLength="19.54" lengthAdjust="spacingAndGlyphs">0</tspan><tspan x="26.14" textLength="18.84" lengthAdjust="spacingAndGlyphs">2</tspan><tspan x="47.86" textLength="18.44" lengthAdjust="spacingAndGlyphs">5</tspan></text>
</g>
<g transform="translate(1979.18 1608.35) rotate(-45)">
<text y="9.5" font-size="35.32"><tspan x="-80.06" textLength="22.4" lengthAdjust="spacingAndGlyphs">A</tspan><tspan x="-56.96" textLength="19.99" lengthAdjust="spacingAndGlyphs">u</tspan><tspan x="-36.01" textLength="20.15" lengthAdjust="spacingAndGlyphs">g</tspan> <tspan x="-3.84" textLength="18.84" lengthAdjust="spacingAndGlyphs">2</tspan><tspan x="17.46" textLength="19.54" lengthAdjust="spacingAndGlyphs">0</tspan><tspan x="38.58" textLength="18.84" lengthAdjust="spacingAndGlyphs">2</tspan><tspan x="60.29" textLength="18.44" lengthAdjust="spacingAndGlyphs">5</tspan></text>
</g>
<g transform="translate(2224.03 1607.55) rotate(-45)">
<text y="9.5" font-size="35.32"><tspan x="-78.28" textLength="19.82" lengthAdjust="spacingAndGlyphs">S</tspan><tspan x="-57.66" textLength="20.02" lengthAdjust="spacingAndGlyphs">e</tspan><tspan x="-36.77" textLength="20.17" lengthAdjust="spacingAndGlyphs">p</tspan> <tspan x="-4.97" textLength="18.84" lengthAdjust="spacingAndGlyphs">2</tspan><tspan x="16.33" textLength="19.54" lengthAdjust="spacingAndGlyphs">0</tspan><tspan x="37.45" textLength="18.84" lengthAdjust="spacingAndGlyphs">2</tspan><tspan x="59.16" textLength="18.44" lengthAdjust="spacingAndGlyphs">5</tspan></text>
</g>
<g transform="translate(2461.49 1605.65) rotate(-45)">
<text y="9.5" font-size="35.32"><tspan x="-76.22" textLength="25.63" lengthAdjust="spacingAndGlyphs">O</tspan><tspan x="-49.87" textLength="16.72" lengthAdjust="spacingAndGlyphs">c</tspan><tspan x="-31.75" textLength="12.38" lengthAdjust="spacingAndGlyphs">t</tspan> <tspan x="-7.56" textLength="18.84" lengthAdjust="spacingAndGlyphs">2</tspan><tspan x="13.73" textLength="19.54" lengthAdjust="spacingAndGlyphs">0</tspan><tspan x="34.85" textLength="18.84" lengthAdjust="spacingAndGlyphs">2</tspan><tspan x="56.57" textLength="18.44" lengthAdjust="spacingAndGlyphs">5</tspan></text>
</g>
<g transform="translate(2705.85 1608.35) rotate(-45)">
<text y="9.5" font-size="35.32"><tspan x="-79.67" textLength="23.78" lengthAdjust="spacingAndGlyphs">N</tspan><tspan x="-54.95" textLength="19.71" lengthAdjust="spacingAndGlyphs">o</tspan><tspan x="-34.04" textLength="17.99" lengthAdjust="spacingAndGlyphs">v</tspan> <tspan x="-3.85" textLength="18.84" lengthAdjust="spacingAndGlyphs">2</tspan><tspan x="17.44" textLength="19.54" lengthAdjust="spacingAndGlyphs">0</tspan><tspan x="38.56" textLength="18.84" lengthAdjust="spacingAndGlyphs">2</tspan><tspan x="60.28" textLength="18.44" lengthAdjust="spacingAndGlyphs">5</tspan></text>
</g>
<g transform="translate(2942.8 1608.12) rotate(-45)">
<text y="9.5" font-size="35.32"><tspan x="-79.52" textLength="24.91" lengthAdjust="spacingAndGlyphs">D</tspan><tspan x="-53.99" textLength="20.02" lengthAdjust="spacingAndGlyphs">e</tspan><tspan x="-33.37" textLength="16.72" lengthAdjust="spacingAndGlyphs">c</tspan> <tspan x="-4.13" textLength="18.84" lengthAdjust="spacingAndGlyphs">2</tspan><tspan x="17.17" textLength="19.54" lengthAdjust="spacingAndGlyphs">0</tspan><tspan x="38.29" textLength="18.84" lengthAdjust="spacingAndGlyphs">2</tspan><tspan x="60" textLength="18.44" lengthAdjust="spacingAndGlyphs">5</tspan></text>
</g>
<g transform="translate(3187.66 1603.39) rotate(-45)">
<text y="9.5" font-size="35.32"><tspan x="-76.83" textLength="13.24" lengthAdjust="spacingAndGlyphs">J</tspan><tspan x="-62.85" textLength="16.67" lengthAdjust="spacingAndGlyphs">a</tspan><tspan x="-42.51" textLength="19.99" lengthAdjust="spacingAndGlyphs">n</tspan> <tspan x="-10.69" textLength="18.84" lengthAdjust="spacingAndGlyphs">2</tspan><tspan x="10.61" textLength="19.54" lengthAdjust="spacingAndGlyphs">0</tspan><tspan x="31.73" textLength="18.84" lengthAdjust="spacingAndGlyphs">2</tspan><tspan x="52.68" textLength="20.23" lengthAdjust="spacingAndGlyphs">6</tspan></text>
</g>
<g transform="translate(3432.52 1606.18) rotate(-45)">
<text y="9.5" font-size="35.32"><tspan x="-76.29" textLength="17.45" lengthAdjust="spacingAndGlyphs">F</tspan><tspan x="-59.56" textLength="20.02" lengthAdjust="spacingAndGlyphs">e</tspan><tspan x="-38.67" textLength="20.17" lengthAdjust="spacingAndGlyphs">b</tspan> <tspan x="-6.87" textLength="18.84" lengthAdjust="spacingAndGlyphs">2</tspan><tspan x="14.42" textLength="19.54" lengthAdjust="spacingAndGlyphs">0</tspan><tspan x="35.54" textLength="18.84" lengthAdjust="spacingAndGlyphs">2</tspan><tspan x="56.49" textLength="20.23" lengthAdjust="spacingAndGlyphs">6</tspan></text>
</g>
</g>
<rect x="2651" y="112" width="870" height="339" rx="7.5" ry="7.5" fill="#ffffff" fill-opacity="0.8" stroke="#cccccc" stroke-opacity="0.8" stroke-width="4.17"/>
<path d="M2666 141H2741" stroke="#4682b4" stroke-width="4.17" stroke-linecap="square"/>
<path d="M2666 196H2741" stroke="#a52a2a" stroke-width="4.17" stroke-linecap="square"/>
<path d="M2666 251H2741" stroke="#ff0000" stroke-width="4.17" stroke-linecap="square"/>
<path d="M2666 306H2741" stroke="#ffa500" stroke-width="4.17" stroke-linecap="square"/>
<path d="M2666 360H2741" stroke="#008000" stroke-width="4.17" stroke-linecap="square"/>
<circle cx="2704.5" cy="418.4" r="11.3" fill="#000"/>
<g class="t">
<text y="154.75" font-size="39.73"><tspan x="2772.12" textLength="26.94" lengthAdjust="spacingAndGlyphs">H</tspan><tspan x="2800.67" textLength="8.52" lengthAdjust="spacingAndGlyphs">i</tspan><tspan x="2810.47" textLength="22.67" lengthAdjust="spacingAndGlyphs">g</tspan><tspan x="2834.5" textLength="22.64" lengthAdjust="spacingAndGlyphs">h</tspan></text>
<text y="209.5" font-size="39.73"><tspan x="2772.02" textLength="21.46" lengthAdjust="spacingAndGlyphs">L</tspan><tspan x="2792.13" textLength="22.17" lengthAdjust="spacingAndGlyphs">o</tspan><tspan x="2816.31" textLength="27.37" lengthAdjust="spacingAndGlyphs">w</tspan></text>
<text y="264.25" font-size="39.73"><tspan x="2772.74" textLength="21" lengthAdjust="spacingAndGlyphs">1</tspan><tspan x="2796.29" textLength="21.98" lengthAdjust="spacingAndGlyphs">0</tspan> <tspan x="2831.64" textLength="28.02" lengthAdjust="spacingAndGlyphs">D</tspan><tspan x="2860.83" textLength="18.75" lengthAdjust="spacingAndGlyphs">a</tspan><tspan x="2884.01" textLength="20.14" lengthAdjust="spacingAndGlyphs">y</tspan> <tspan x="2917.73" textLength="26.94" lengthAdjust="spacingAndGlyphs">H</tspan><tspan x="2946.27" textLength="8.52" lengthAdjust="spacingAndGlyphs">i</tspan><tspan x="2956.08" textLength="22.67" lengthAdjust="spacingAndGlyphs">g</tspan><tspan x="2980.11" textLength="22.64" lengthAdjust="spacingAndGlyphs">h</tspan> <tspan x="3016.17" textLength="22.3" lengthAdjust="spacingAndGlyphs">S</tspan><tspan x="3039.63" textLength="31.15" lengthAdjust="spacingAndGlyphs">M</tspan><tspan x="3071.59" textLength="25.2" lengthAdjust="spacingAndGlyphs">A</tspan></text>
<text y="319" font-size="39.73"><tspan x="2772.33" textLength="21.19" lengthAdjust="spacingAndGlyphs">2</tspan><tspan x="2796.29" textLength="21.98" lengthAdjust="spacingAndGlyphs">0</tspan> <tspan x="2831.64" textLength="28.02" lengthAdjust="spacingAndGlyphs">D</tspan><tspan x="2860.83" textLength="18.75" lengthAdjust="spacingAndGlyphs">a</tspan><tspan x="2884.01" textLength="20.14" lengthAdjust="spacingAndGlyphs">y</tspan> <tspan x="2917.73" textLength="26.94" lengthAdjust="spacingAndGlyphs">H</tspan><tspan x="2946.27" textLength="8.52" lengthAdjust="spacingAndGlyphs">i</tspan><tspan x="2956.08" textLength="22.67" lengthAdjust="spacingAndGlyphs">g</tspan><tspan x="2980.11" textLength="22.64" lengthAdjust="spacingAndGlyphs">h</tspan> <tspan x="3016.17" textLength="22.3" lengthAdjust="spacingAndGlyphs">S</tspan><tspan x="3039.63" textLength="31.15" lengthAdjust="spacingAndGlyphs">M</tspan><tspan x="3071.59" textLength="25.2" lengthAdjust="spacingAndGlyphs">A</tspan></text>
<text y="373.75" font-size="39.73"><tspan x="2772.9" textLength="20.75" lengthAdjust="spacingAndGlyphs">5</tspan><tspan x="2796.29" textLength="21.98" lengthAdjust="spacingAndGlyphs">0</tspan> <tspan x="2831.64" textLength="28.02" lengthAdjust="spacingAndGlyphs">D</tspan><tspan x="2860.83" textLength="18.75" lengthAdjust="spacingAndGlyphs">a</tspan><tspan x="2884.01" textLength="20.14" lengthAdjust="spacingAndGlyphs">y</tspan> <tspan x="2917.73" textLength="26.94" lengthAdjust="spacingAndGlyphs">H</tspan><tspan x="2946.27" textLength="8.52" lengthAdjust="spacingAndGlyphs">i</tspan><tspan x="2956.08" textLength="22.67" lengthAdjust="spacingAndGlyphs">g</tspan><tspan x="2980.11" textLength="22.64" lengthAdjust="spacingAndGlyphs">h</tspan> <tspan x="3016.17" textLength="22.3" lengthAdjust="spacingAndGlyphs">S</tspan><tspan x="3039.63" textLength="31.15" lengthAdjust="spacingAndGlyphs">M</tspan><tspan x="3071.59" textLength="25.2" lengthAdjust="spacingAndGlyphs">A</tspan></text>
<text y="428.5" font-size="39.73"><tspan x="2772.45" textLength="22.3" lengthAdjust="spacingAndGlyphs">S</tspan><tspan x="2796.08" textLength="22.69" lengthAdjust="spacingAndGlyphs">p</tspan><tspan x="2820.08" textLength="8.52" lengthAdjust="spacingAndGlyphs">i</tspan><tspan x="2830.11" textLength="20.96" lengthAdjust="spacingAndGlyphs">k</tspan><tspan x="2850.25" textLength="22.53" lengthAdjust="spacingAndGlyphs">e</tspan> <tspan x="2886.15" textLength="10.56" lengthAdjust="spacingAndGlyphs">(</tspan><tspan x="2900.15" textLength="26.94" lengthAdjust="spacingAndGlyphs">H</tspan><tspan x="2928.7" textLength="8.52" lengthAdjust="spacingAndGlyphs">i</tspan><tspan x="2938.5" textLength="22.67" lengthAdjust="spacingAndGlyphs">g</tspan><tspan x="2962.53" textLength="22.64" lengthAdjust="spacingAndGlyphs">h</tspan> <tspan x="2999.23" textLength="28.22" lengthAdjust="spacingAndGlyphs">&gt;</tspan> <tspan x="3042.22" textLength="21" lengthAdjust="spacingAndGlyphs">1</tspan><tspan x="3065.14" textLength="11.27" lengthAdjust="spacingAndGlyphs">.</tspan><tspan x="3077.59" textLength="21.19" lengthAdjust="spacingAndGlyphs">2</tspan><tspan x="3102.01" textLength="20.75" lengthAdjust="spacingAndGlyphs">5</tspan> <tspan x="3136.76" textLength="17.98" lengthAdjust="spacingAndGlyphs">*</tspan> <tspan x="3168.31" textLength="21" lengthAdjust="spacingAndGlyphs">1</tspan><tspan x="3191.85" textLength="21.98" lengthAdjust="spacingAndGlyphs">0</tspan> <tspan x="3227.2" textLength="28.02" lengthAdjust="spacingAndGlyphs">D</tspan><tspan x="3256.4" textLength="18.75" lengthAdjust="spacingAndGlyphs">a</tspan><tspan x="3279.57" textLength="20.14" lengthAdjust="spacingAndGlyphs">y</tspan> <tspan x="3313.29" textLength="26.94" lengthAdjust="spacingAndGlyphs">H</tspan><tspan x="3341.84" textLength="8.52" lengthAdjust="spacingAndGlyphs">i</tspan><tspan x="3351.64" textLength="22.67" lengthAdjust="spacingAndGlyphs">g</tspan><tspan x="3375.67" textLength="22.64" lengthAdjust="spacingAndGlyphs">h</tspan> <tspan x="3411.73" textLength="22.3" lengthAdjust="spacingAndGlyphs">S</tspan><tspan x="3435.19" textLength="31.15" lengthAdjust="spacingAndGlyphs">M</tspan><tspan x="3467.15" textLength="25.2" lengthAdjust="spacingAndGlyphs">A</tspan><tspan x="3495.4" textLength="10.56" lengthAdjust="spacingAndGlyphs">)</tspan></text>
</g>
</svg></body></html>
